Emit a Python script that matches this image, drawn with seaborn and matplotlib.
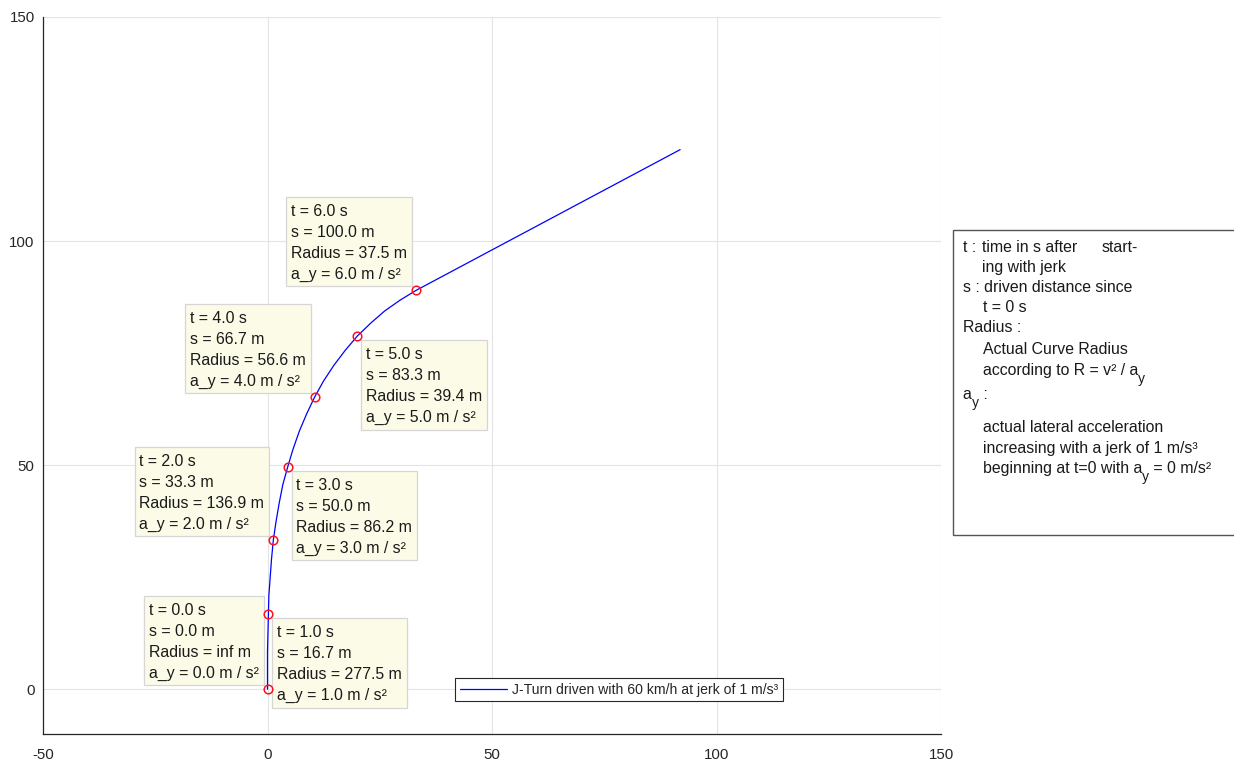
import matplotlib
matplotlib.use("Agg")
import matplotlib.pyplot as plt
from matplotlib.patches import Rectangle
import seaborn as sns
import pandas as pd

# Vehicle path of the J-turn (x lateral, y longitudinal, metres)
path_x = [0.0, 0.0, 0.0, 0.1, 0.2, 0.3, 0.6, 0.9, 1.3, 1.9, 2.6, 3.4, 4.5,
          5.7, 7.1, 8.7, 10.5, 12.5, 14.8, 17.3, 20.0, 23.0, 26.1, 29.5, 33.1,
          91.9]
path_y = [0.0, 4.2, 8.3, 12.5, 16.7, 20.8, 25.0, 29.1, 33.3, 37.4, 41.5, 45.6,
          49.6, 53.6, 57.6, 61.4, 65.2, 68.8, 72.3, 75.6, 78.8, 81.7, 84.4, 86.8,
          89.0, 120.4]

# Points along the path where the state is reported
marker_idx = [0, 4, 8, 12, 16, 20, 24]
times = [0.0, 1.0, 2.0, 3.0, 4.0, 5.0, 6.0]
distances = [0.0, 16.7, 33.3, 50.0, 66.7, 83.3, 100.0]
radii = ["inf", "277.5", "136.9", "86.2", "56.6", "39.4", "37.5"]
lat_acc = [0.0, 1.0, 2.0, 3.0, 4.0, 5.0, 6.0]

x_ticks = [-50, 0, 50, 100, 150]
y_ticks = [0, 50, 100, 150]
legend_label = "J-Turn driven with 60 km/h at jerk of 1 m/s³"

sns.set_theme(style="white")
plt.rcParams["font.family"] = ["Liberation Sans", "DejaVu Sans"]
plt.rcParams["axes.unicode_minus"] = False

W, H = 1234, 763
fig = plt.figure(figsize=(W / 100, H / 100), dpi=100)
ax = fig.add_axes([43 / W, 1 - 734 / H, 898 / W, 717 / H])

path = pd.DataFrame({"x": path_x, "y": path_y})
marks = path.iloc[marker_idx].reset_index(drop=True)

sns.lineplot(data=path, x="x", y="y", sort=False, estimator=None,
             color="#0000FF", linewidth=0.9, label=legend_label, ax=ax, zorder=3)
ax.plot(marks["x"], marks["y"], linestyle="none", marker="o", markersize=6.2,
        markerfacecolor="none", markeredgecolor="#FF1020", markeredgewidth=1.1,
        zorder=6)

ax.set_xlim(-50, 150)
ax.set_ylim(-10, 150)
ax.set_xticks(x_ticks)
ax.set_yticks(y_ticks)
ax.set_xticklabels([str(v) for v in x_ticks])
ax.set_yticklabels([str(v) for v in y_ticks])
ax.set_xlabel("")
ax.set_ylabel("")

ax.grid(True, color="#E3E3E3", linewidth=0.8)
ax.set_axisbelow(True)
for side in ("top", "right"):
    ax.spines[side].set_visible(False)
for side in ("left", "bottom"):
    ax.spines[side].set_color("#262626")
    ax.spines[side].set_linewidth(0.9)
ax.tick_params(direction="in", length=5, width=0.8, color="#262626",
               labelsize=10.8, labelcolor="#262626")
ax.tick_params(axis="x", pad=10)
ax.tick_params(axis="y", pad=6)

# Data tips at each reported point (text first, frames sized to it afterwards)
PAD_L, PAD_R, PAD_T, PAD_B, GAP = 4.7, 5.0, 7.0, 4.3, 4.0
tips = []
for i in range(len(times)):
    txt = (f"t = {times[i]:.1f} s\ns = {distances[i]:.1f} m\n"
           f"Radius = {radii[i]} m\na_y = {lat_acc[i]:.1f} m / s²")
    if i % 2 == 0:
        off, ha, va = (-(GAP + PAD_R), GAP + PAD_B), "right", "bottom"
    else:
        off, ha, va = (GAP + PAD_L, -(GAP + PAD_T)), "left", "top"
    tip = ax.annotate(txt, xy=(marks["x"][i], marks["y"][i]), xytext=off,
                      textcoords="offset pixels", ha=ha, va=va, ma="left",
                      fontsize=11.4, linespacing=1.5, color="#1A1A1A",
                      zorder=5)
    tips.append(tip)

leg = ax.legend(loc="center", bbox_to_anchor=(0.641, 0.062), fontsize=10.1,
                frameon=True, fancybox=False, framealpha=1, handlelength=3.4,
                handletextpad=0.3, borderpad=0.35, borderaxespad=0)
leg.get_frame().set_edgecolor("#262626")
leg.get_frame().set_linewidth(0.8)

renderer = fig.canvas.get_renderer()
inv = ax.transData.inverted()
for tip in tips:
    ext = tip.get_window_extent(renderer=renderer)
    (x0, y0) = inv.transform((ext.x0 - PAD_L, ext.y0 - PAD_B))
    (x1, y1) = inv.transform((ext.x1 + PAD_R, ext.y1 + PAD_T))
    ax.add_patch(Rectangle((x0, y0), x1 - x0, y1 - y0, facecolor="#FBFBE8",
                           edgecolor="#D6D6D6", linewidth=0.9, zorder=4.5,
                           clip_on=False))
ax.set_xlim(-50, 150)
ax.set_ylim(-10, 150)

# Explanation panel on the right
fig.patches.append(Rectangle((953 / W, 1 - 535 / H), 300 / W, 305 / H,
                             transform=fig.transFigure, facecolor="white",
                             edgecolor="#555555", linewidth=1.0, zorder=1))

FS = 11.4
SUB = 10.0


def put_line(x_px, base_px, segments):
    x = x_px
    for text, drop, size in segments:
        t = fig.text(x / W, 1 - (base_px + drop) / H, text, fontsize=size,
                     ha="left", va="baseline", color="#1A1A1A", zorder=3)
        x += t.get_window_extent(renderer=renderer).width


panel_lines = [
    (962.7, 251.5, [("t :", 0, FS)]),
    (982.3, 251.5, [("time in s after", 0, FS)]),
    (1101.3, 251.5, [("start-", 0, FS)]),
    (982.3, 271.5, [("ing with jerk", 0, FS)]),
    (962.7, 291.5, [("s : driven distance since", 0, FS)]),
    (983.0, 312.0, [("t = 0 s", 0, FS)]),
    (962.7, 332.0, [("Radius :", 0, FS)]),
    (983.0, 354.0, [("Actual Curve Radius", 0, FS)]),
    (983.0, 374.5, [("according to R = v² / a", 0, FS), ("y", 8, SUB)]),
    (962.7, 399.0, [("a", 0, FS), ("y", 8, SUB), (" :", 0, FS)]),
    (983.0, 432.0, [("actual lateral acceleration", 0, FS)]),
    (983.0, 452.5, [("increasing with a jerk of 1 m/s³", 0, FS)]),
    (983.0, 473.0, [("beginning at t=0 with a", 0, FS), ("y", 8, SUB),
                    (" = 0 m/s²", 0, FS)]),
]
for x_px, base_px, segs in panel_lines:
    put_line(x_px, base_px, segs)

fig.savefig("out.png", dpi=100, facecolor="white")
